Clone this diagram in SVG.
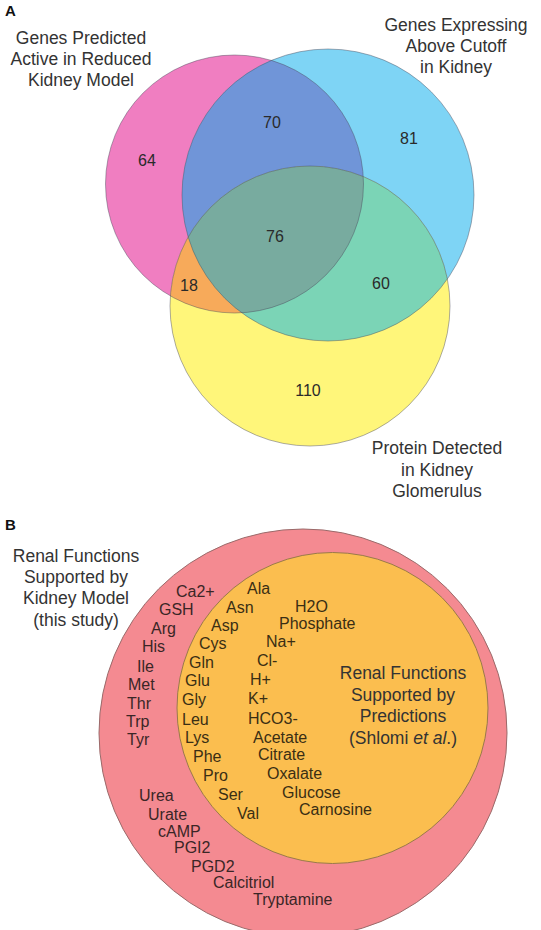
<svg xmlns="http://www.w3.org/2000/svg" width="541" height="930" viewBox="0 0 541 930">
<style>
text{font-family:"Liberation Sans",Arial,sans-serif;fill:#333}
.lbl{font-size:17.5px;text-anchor:middle}
.num{font-size:16px;text-anchor:middle;fill:#2a2a2a}
.it{font-size:16px;fill:#3a2626}
.in{font-size:16px;fill:#3a2e14}
.pan{font-size:15px;font-weight:bold;fill:#111}
.edge{fill:none;stroke:#4a4a5a;stroke-opacity:0.45;stroke-width:1}
</style>
<defs>
<clipPath id="cP"><circle cx="234.5" cy="184" r="129"/></clipPath>
<clipPath id="cB"><circle cx="328" cy="195" r="146"/></clipPath>
</defs>
<text class="pan" x="5" y="16">A</text>
<g id="venn-regions">
<circle cx="234.5" cy="184" r="129" fill="#f07ec1"/>
<circle cx="328" cy="195" r="146" fill="#7ed4f5"/>
<circle cx="310" cy="306" r="140" fill="#fff67a"/>
<circle cx="328" cy="195" r="146" fill="#7095d8" clip-path="url(#cP)"/>
<circle cx="310" cy="306" r="140" fill="#f7aa5a" clip-path="url(#cP)"/>
<circle cx="310" cy="306" r="140" fill="#7bd4b6" clip-path="url(#cB)"/>
<g clip-path="url(#cB)"><circle cx="310" cy="306" r="140" fill="#78ab9f" clip-path="url(#cP)"/></g>
</g>
<g id="connectors">
<circle class="edge" cx="234.5" cy="184" r="129"/>
<circle class="edge" cx="328" cy="195" r="146"/>
<circle class="edge" cx="310" cy="306" r="140"/>
</g>
<g id="set-kidney-model">
<text class="lbl" x="81" y="44">Genes Predicted</text>
<text class="lbl" x="81" y="65">Active in Reduced</text>
<text class="lbl" x="81" y="86">Kidney Model</text>
</g>
<g id="set-expression">
<text class="lbl" x="456" y="31">Genes Expressing</text>
<text class="lbl" x="456" y="52">Above Cutoff</text>
<text class="lbl" x="456" y="73">in Kidney</text>
</g>
<g id="set-protein">
<text class="lbl" x="437" y="454">Protein Detected</text>
<text class="lbl" x="437" y="476">in Kidney</text>
<text class="lbl" x="437" y="497">Glomerulus</text>
</g>
<g id="counts">
<text class="num" x="147" y="166">64</text>
<text class="num" x="272" y="128">70</text>
<text class="num" x="409" y="144">81</text>
<text class="num" x="275" y="242">76</text>
<text class="num" x="189" y="291">18</text>
<text class="num" x="381" y="289">60</text>
<text class="num" x="308" y="396">110</text>
</g>
<text class="pan" x="5" y="530">B</text>
<g id="outer-set">
<circle cx="303" cy="733" r="204" fill="#f48a91" stroke="#9a6a6a" stroke-width="1"/>
<text class="lbl" x="76" y="562">Renal Functions</text>
<text class="lbl" x="76" y="583">Supported by</text>
<text class="lbl" x="76" y="604">Kidney Model</text>
<text class="lbl" x="76" y="626">(this study)</text>
<text class="it" x="176" y="597">Ca2+</text>
<text class="it" x="159" y="615">GSH</text>
<text class="it" x="151" y="634">Arg</text>
<text class="it" x="142" y="652">His</text>
<text class="it" x="137" y="672">Ile</text>
<text class="it" x="128" y="690">Met</text>
<text class="it" x="127" y="709">Thr</text>
<text class="it" x="126" y="727">Trp</text>
<text class="it" x="127" y="745">Tyr</text>
<text class="it" x="139" y="801">Urea</text>
<text class="it" x="148" y="820">Urate</text>
<text class="it" x="158" y="837">cAMP</text>
<text class="it" x="174" y="853">PGI2</text>
<text class="it" x="191" y="872">PGD2</text>
<text class="it" x="213" y="888">Calcitriol</text>
<text class="it" x="253" y="905">Tryptamine</text>
</g>
<g id="inner-set">
<circle cx="332.5" cy="708" r="155.5" fill="#fbbe4f" stroke="#9a7a4a" stroke-width="1"/>
<text class="lbl" x="403" y="679">Renal Functions</text>
<text class="lbl" x="403" y="701">Supported by</text>
<text class="lbl" x="403" y="722">Predictions</text>
<text class="lbl" x="403" y="744">(Shlomi <tspan font-style="italic">et al</tspan>.)</text>
<text class="in" x="247" y="594">Ala</text>
<text class="in" x="226" y="613">Asn</text>
<text class="in" x="211" y="631">Asp</text>
<text class="in" x="199" y="649">Cys</text>
<text class="in" x="189" y="668">Gln</text>
<text class="in" x="185" y="686">Glu</text>
<text class="in" x="182" y="705">Gly</text>
<text class="in" x="182" y="725">Leu</text>
<text class="in" x="185" y="743">Lys</text>
<text class="in" x="193" y="762">Phe</text>
<text class="in" x="203" y="781">Pro</text>
<text class="in" x="218" y="800">Ser</text>
<text class="in" x="237" y="819">Val</text>
<text class="in" x="295" y="612">H2O</text>
<text class="in" x="279" y="629">Phosphate</text>
<text class="in" x="266" y="647">Na+</text>
<text class="in" x="257" y="666">Cl-</text>
<text class="in" x="250" y="685">H+</text>
<text class="in" x="248" y="704">K+</text>
<text class="in" x="248" y="724">HCO3-</text>
<text class="in" x="253" y="743">Acetate</text>
<text class="in" x="258" y="760">Citrate</text>
<text class="in" x="267" y="779">Oxalate</text>
<text class="in" x="282" y="798">Glucose</text>
<text class="in" x="299" y="815">Carnosine</text>
</g>
</svg>
